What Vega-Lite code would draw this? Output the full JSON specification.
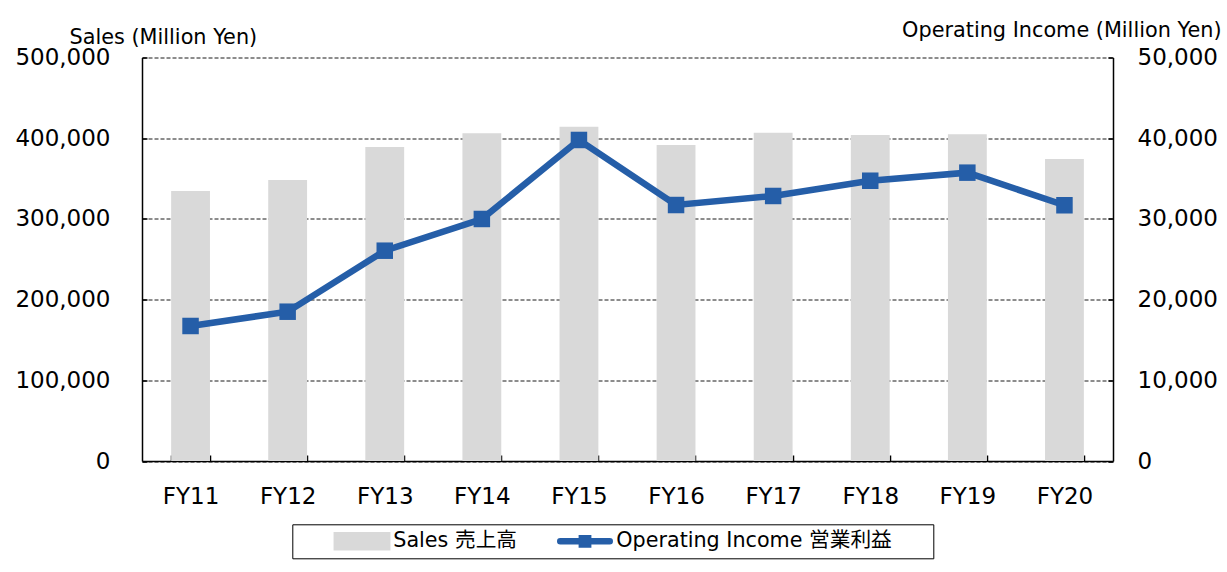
{
  "$schema": "https://vega.github.io/schema/vega-lite/v6.json",
  "width": 971,
  "height": 403.5,
  "autosize": {"type": "none"},
  "padding": {"left": 142, "top": 57.5, "right": 114, "bottom": 111},
  "background": "white",
  "config": {
    "font": "DejaVu Sans, Noto Sans CJK JP",
    "view": {"stroke": null},
    "axis": {
      "labelFont": "DejaVu Sans",
      "labelFontSize": 23,
      "labelColor": "black",
      "titleFont": "DejaVu Sans",
      "titleFontSize": 20.8,
      "titleFontWeight": "normal",
      "titleColor": "black",
      "domainColor": "black",
      "domainWidth": 1.5,
      "tickColor": "black",
      "tickWidth": 1.5
    }
  },
  "data": {
    "values": [
      {"year": "FY11", "sales": 334600, "oi": 16730},
      {"year": "FY12", "sales": 348200, "oi": 18500},
      {"year": "FY13", "sales": 389100, "oi": 26060},
      {"year": "FY14", "sales": 406100, "oi": 29990},
      {"year": "FY15", "sales": 414300, "oi": 39780},
      {"year": "FY16", "sales": 391600, "oi": 31720},
      {"year": "FY17", "sales": 406800, "oi": 32840},
      {"year": "FY18", "sales": 404000, "oi": 34730},
      {"year": "FY19", "sales": 404800, "oi": 35730},
      {"year": "FY20", "sales": 374200, "oi": 31690}
    ]
  },
  "encoding": {
    "x": {
      "field": "year",
      "type": "nominal",
      "sort": null,
      "scale": {"paddingInner": 0.6, "paddingOuter": 0.3},
      "axis": {
        "title": null,
        "labelAngle": 0,
        "tickSize": -6,
        "tickBand": "extent",
        "labelPadding": 30,
        "grid": false
      }
    }
  },
  "layer": [
    {
      "mark": {"type": "bar"},
      "encoding": {
        "y": {
          "field": "sales",
          "type": "quantitative",
          "scale": {"domain": [0, 500000], "nice": false},
          "axis": {
            "title": "Sales (Million Yen)",
            "titleAngle": 0,
            "titleAlign": "left",
            "titleBaseline": "alphabetic",
            "titleX": -73,
            "titleY": -14.5,
            "values": [0, 100000, 200000, 300000, 400000, 500000],
            "format": ",d",
            "grid": true,
            "gridColor": "#1a1a1a",
            "gridDash": [4, 2],
            "gridWidth": 1,
            "tickSize": -5,
            "labelPadding": 37
          }
        },
        "color": {
          "datum": "Sales 売上高",
          "type": "nominal",
          "scale": {
            "domain": ["Sales 売上高", "Operating Income 営業利益"],
            "range": ["#d9d9d9", "#255ea8"]
          },
          "legend": {
            "orient": "none",
            "legendX": 150.3,
            "legendY": 466.8,
            "direction": "horizontal",
            "title": null,
            "strokeColor": "black",
            "fillColor": "white",
            "padding": 6.5,
            "labelFont": "DejaVu Sans, Noto Sans CJK JP",
            "labelFontSize": 20.7,
            "labelColor": "black",
            "labelLimit": 0,
            "symbolSize": 8100,
            "symbolOffset": 14.7,
            "labelOffset": -17.2,
            "clipHeight": 21,
            "columnPadding": 4,
            "labelExpr": "datum.label == 'Sales 売上高' ? datum.label : datum.label + '   \u2800'",
            "encode": {
              "symbols": {
                "update": {
                  "shape": {"signal": "datum.value == 'Sales 売上高' ? 'M-0.56,-0.133H0.56V0.133H-0.56Z' : 'M-0.55,0H0.55M-0.07,-0.07H0.07V0.07H-0.07Z'"},
                  "fill": {"signal": "datum.value == 'Sales 売上高' ? '#d9d9d9' : '#255ea8'"},
                  "stroke": {"signal": "datum.value == 'Sales 売上高' ? 'transparent' : '#255ea8'"},
                  "strokeWidth": {"value": 6.5},
                  "strokeCap": {"value": "round"},
                  "opacity": {"value": 1}
                }
              }
            }
          }
        }
      }
    },
    {
      "mark": {
        "type": "line",
        "strokeWidth": 6.5,
        "point": {"shape": "square", "size": 272, "filled": true, "opacity": 1}
      },
      "encoding": {
        "y": {
          "field": "oi",
          "type": "quantitative",
          "scale": {"domain": [0, 50000], "nice": false},
          "axis": {
            "orient": "right",
            "title": "Operating Income (Million Yen)",
            "titleAngle": 0,
            "titleAlign": "right",
            "titleBaseline": "alphabetic",
            "titleX": 108,
            "titleY": -21,
            "values": [0, 10000, 20000, 30000, 40000, 50000],
            "format": ",d",
            "grid": false,
            "tickSize": -5,
            "labelPadding": 29
          }
        },
        "color": {"datum": "Operating Income 営業利益", "type": "nominal"}
      }
    }
  ],
  "resolve": {"scale": {"y": "independent"}}
}
